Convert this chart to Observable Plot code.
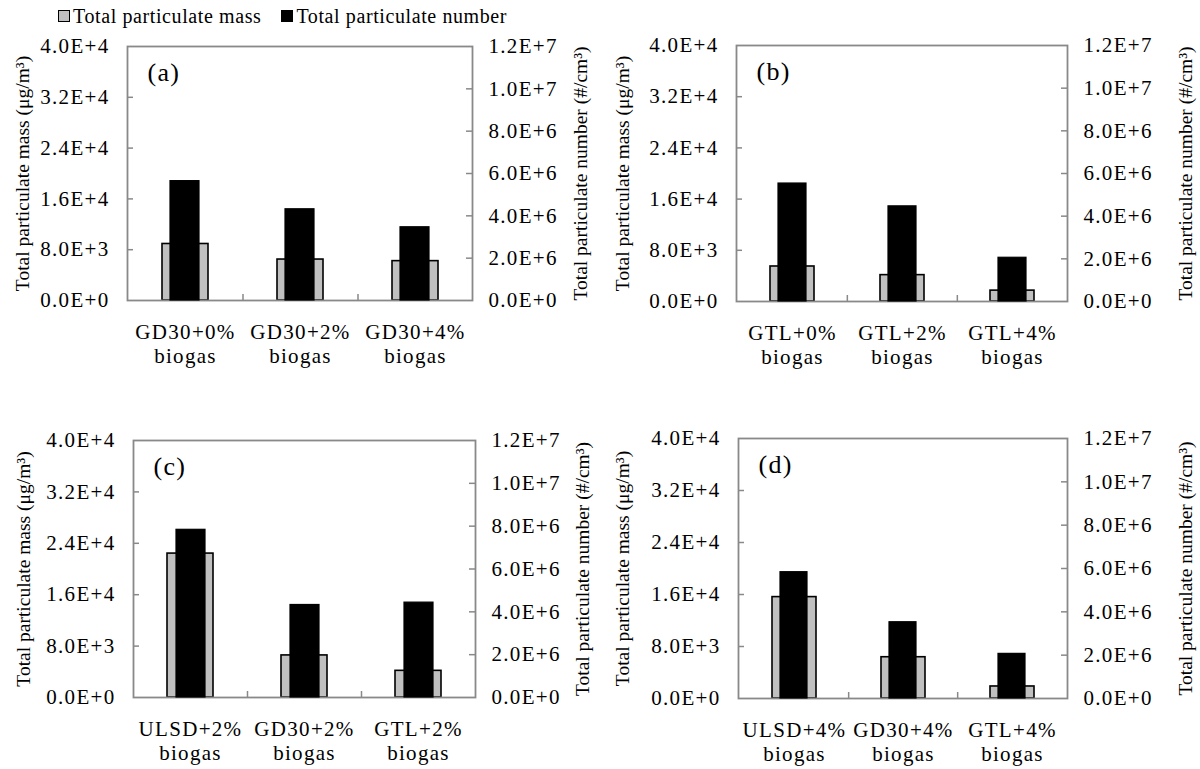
<!DOCTYPE html>
<html><head><meta charset="utf-8">
<script src="https://cdn.jsdelivr.net/npm/d3@7"></script>
<script src="https://cdn.jsdelivr.net/npm/@observablehq/plot@0.6"></script>
<style>
body{margin:0;background:#fff;}
#root{position:relative;width:1200px;height:769px;overflow:hidden;background:#fff;font-family:"Liberation Serif","Times New Roman",serif;color:#000;}
.panel{position:absolute;width:600px;}
.panel svg{position:absolute;left:0;top:0;overflow:visible;}
#legend{position:absolute;left:58px;top:3px;font-size:20px;letter-spacing:0.6px;white-space:nowrap;display:flex;align-items:center;line-height:26px;}
.sw{display:inline-block;width:10px;height:10px;border:1.5px solid #000;margin-right:3px;}
</style></head><body><div id="root"><div id="legend"></div></div>
<script>
// ---- data ----
const seriesNames = ["Total particulate mass", "Total particulate number"];
const massTitle = "Total particulate mass (μg/m³)";
const numTitle = "Total particulate number (#/cm³)";
const panelLabels = ["(a)", "(b)", "(c)", "(d)"];

const catsA = ["GD30+0%\nbiogas", "GD30+2%\nbiogas", "GD30+4%\nbiogas"];
const massA = [8900, 6450, 6200];
const numA = [5.64e6, 4.31e6, 3.46e6];

const catsB = ["GTL+0%\nbiogas", "GTL+2%\nbiogas", "GTL+4%\nbiogas"];
const massB = [5470, 4120, 1700];
const numB = [5.53e6, 4.46e6, 2.05e6];

const catsC = ["ULSD+2%\nbiogas", "GD30+2%\nbiogas", "GTL+2%\nbiogas"];
const massC = [22400, 6550, 4150];
const numC = [7.83e6, 4.32e6, 4.43e6];

const catsD = ["ULSD+4%\nbiogas", "GD30+4%\nbiogas", "GTL+4%\nbiogas"];
const massD = [15600, 6350, 1850];
const numD = [5.83e6, 3.52e6, 2.06e6];

const massTicks = [0, 8000, 16000, 24000, 32000, 40000];
const numTicks = [0, 2e6, 4e6, 6e6, 8e6, 1e7, 1.2e7];

// ---- drawing ----
const FONT = '"Liberation Serif","Times New Roman",serif';
const GRID = "#898989";
const MASS_FILL = "#c0c0c0";
const fmt = d => d.toExponential(1).toUpperCase();

const root = document.getElementById("root");
const legend = document.getElementById("legend");
[MASS_FILL, "#000"].forEach((c, i) => {
  const sw = document.createElement("span");
  sw.className = "sw";
  sw.style.background = c;
  if (i > 0) sw.style.marginLeft = "20px";
  legend.appendChild(sw);
  legend.appendChild(document.createTextNode(seriesNames[i]));
});

// widen horizontal texts slightly (reference glyphs are horizontally stretched)
function widen(svg, px) {
  d3.select(svg).selectAll("text")
    .filter(function () { return !(this.getAttribute("transform") || "").includes("rotate"); })
    .style("letter-spacing", px + "px");
}

function panel(p) {
  const W = 600, mT = 30, mB = 80;
  const fw = p.fx1 - p.fx0, fh = p.fy1 - p.fy0;
  const H = fh + mT + mB;
  const mL = p.fx0 - p.ox, mR = p.ox + W - p.fx1;
  const data = p.cats.map((c, i) => ({cat: c, mass: p.mass[i], num: p.num[i]}));
  const common = {
    width: W, height: H, marginLeft: mL, marginRight: mR, marginTop: mT, marginBottom: mB,
    style: {fontFamily: FONT, fontSize: "20px", color: "#000", background: "transparent", overflow: "visible"}
  };
  const back = Plot.plot({
    ...common,
    x: {domain: p.cats, paddingInner: 0.6, paddingOuter: 0.3, axis: null},
    y: {domain: [0, 40000], axis: null},
    marks: [
      Plot.barY(data, {x: "cat", y: "mass", fill: MASS_FILL, stroke: "#000", strokeWidth: 1.6}),
      Plot.ruleY(massTicks.slice(1, -1), {stroke: GRID, strokeWidth: 1.5, insetRight: fw - 6}),
      Plot.ruleX(p.cats.slice(1), {x: d => d, dx: -fw / 6, stroke: GRID, strokeWidth: 1.5, insetTop: fh - 6}),
      Plot.frame({stroke: GRID, strokeWidth: 1.8}),
      Plot.axisY(massTicks, {anchor: "left", label: null, tickSize: 0, tickPadding: 18, tickFormat: fmt, fontSize: 21}),
      Plot.text(p.cats, {x: d => d, frameAnchor: "bottom", lineAnchor: "top", dy: 22, lineHeight: 1.12, fontSize: 21}),
      Plot.text([p.label], {frameAnchor: "top-left", textAnchor: "start", lineAnchor: "top", dx: 20, dy: 16, fontSize: 26}),
      Plot.text([massTitle], {frameAnchor: "left", textAnchor: "middle", rotate: -90, dx: p.ltd, fontSize: 19.5})
    ]
  });
  const front = Plot.plot({
    ...common,
    x: {domain: p.cats, paddingInner: 0.75, paddingOuter: 0.375, axis: null},
    y: {domain: [0, 1.2e7], axis: null},
    marks: [
      Plot.barY(data, {x: "cat", y: "num", fill: "#000", stroke: "#000", strokeWidth: 1.2}),
      Plot.ruleY(numTicks.slice(1, -1), {stroke: GRID, strokeWidth: 1.5, insetLeft: fw - 6}),
      Plot.axisY(numTicks, {anchor: "right", label: null, tickSize: 0, tickPadding: 16, tickFormat: fmt, fontSize: 21}),
      Plot.text([numTitle], {frameAnchor: "right", textAnchor: "middle", rotate: -90, dx: p.rtd, fontSize: 19.5})
    ]
  });
  widen(back, 1.3);
  widen(front, 1.3);
  const div = document.createElement("div");
  div.className = "panel";
  div.style.left = p.ox + "px";
  div.style.top = (p.fy0 - mT) + "px";
  div.style.height = H + "px";
  div.appendChild(back);
  div.appendChild(front);
  root.appendChild(div);
}

panel({cats: catsA, mass: massA, num: numA, label: panelLabels[0], ox: 0,   fx0: 127, fx1: 472,  fy0: 46,  fy1: 300, ltd: -105, rtd: 108});
panel({cats: catsB, mass: massB, num: numB, label: panelLabels[1], ox: 600, fx0: 736, fx1: 1067, fy0: 45,  fy1: 301, ltd: -114, rtd: 118});
panel({cats: catsC, mass: massC, num: numC, label: panelLabels[2], ox: 0,   fx0: 133, fx1: 475,  fy0: 440, fy1: 697, ltd: -110, rtd: 107});
panel({cats: catsD, mass: massD, num: numD, label: panelLabels[3], ox: 600, fx0: 738, fx1: 1067, fy0: 438, fy1: 698, ltd: -116, rtd: 118});
</script></body></html>
